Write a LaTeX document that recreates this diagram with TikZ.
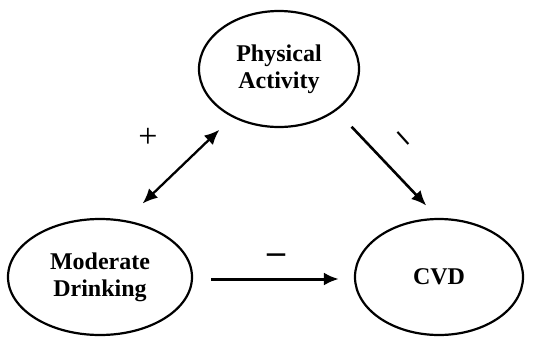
\documentclass[tikz,border=0pt]{standalone}
\usepackage{fontspec}
\setmainfont{Liberation Serif}
\usetikzlibrary{shapes.geometric,arrows.meta}
\begin{document}
\begin{tikzpicture}[x=1pt,y=-1pt,
  var/.style={draw, ellipse, line width=2.2pt, inner sep=0pt, align=center,
    font=\fontsize{24}{27}\selectfont\bfseries},
  tip/.tip={Latex[length=15pt,width=13pt]},
  conn/.style={line width=2.6pt, -tip},
  sign/.style={inner sep=0pt}]
\useasboundingbox (0,0) rectangle (539,338);
\node[var, minimum width=160pt, minimum height=116pt] (pa) at (279,69) {Physical\\Activity};
\node[var, minimum width=184pt, minimum height=116pt] (md) at (100,277) {Moderate\\Drinking};
\node[var, minimum width=168pt, minimum height=116pt] (cvd) at (439,277) {CVD};
\draw[conn, tip-tip, line width=2.3pt,
  shorten <=18pt, shorten >=24pt] (pa.226) -- (md.66);
\draw[conn, shorten <=22pt, shorten >=17pt] (pa.324) -- (cvd.91);
\draw[conn, line width=3pt, shorten <=18pt, shorten >=15pt] ([yshift=-2pt]md.east) -- ([yshift=-2pt]cvd.west);
\node[sign, font=\fontsize{34}{36}\selectfont] (plus) at (148,138) {+};
\node[sign, font=\fontsize{36}{38}\selectfont\bfseries] (minus) at (276,259) {–};
\node[sign, font=\fontsize{32}{34}\selectfont\bfseries, rotate=-48] (tick) at (401,141) {–};
\end{tikzpicture}
\end{document}
